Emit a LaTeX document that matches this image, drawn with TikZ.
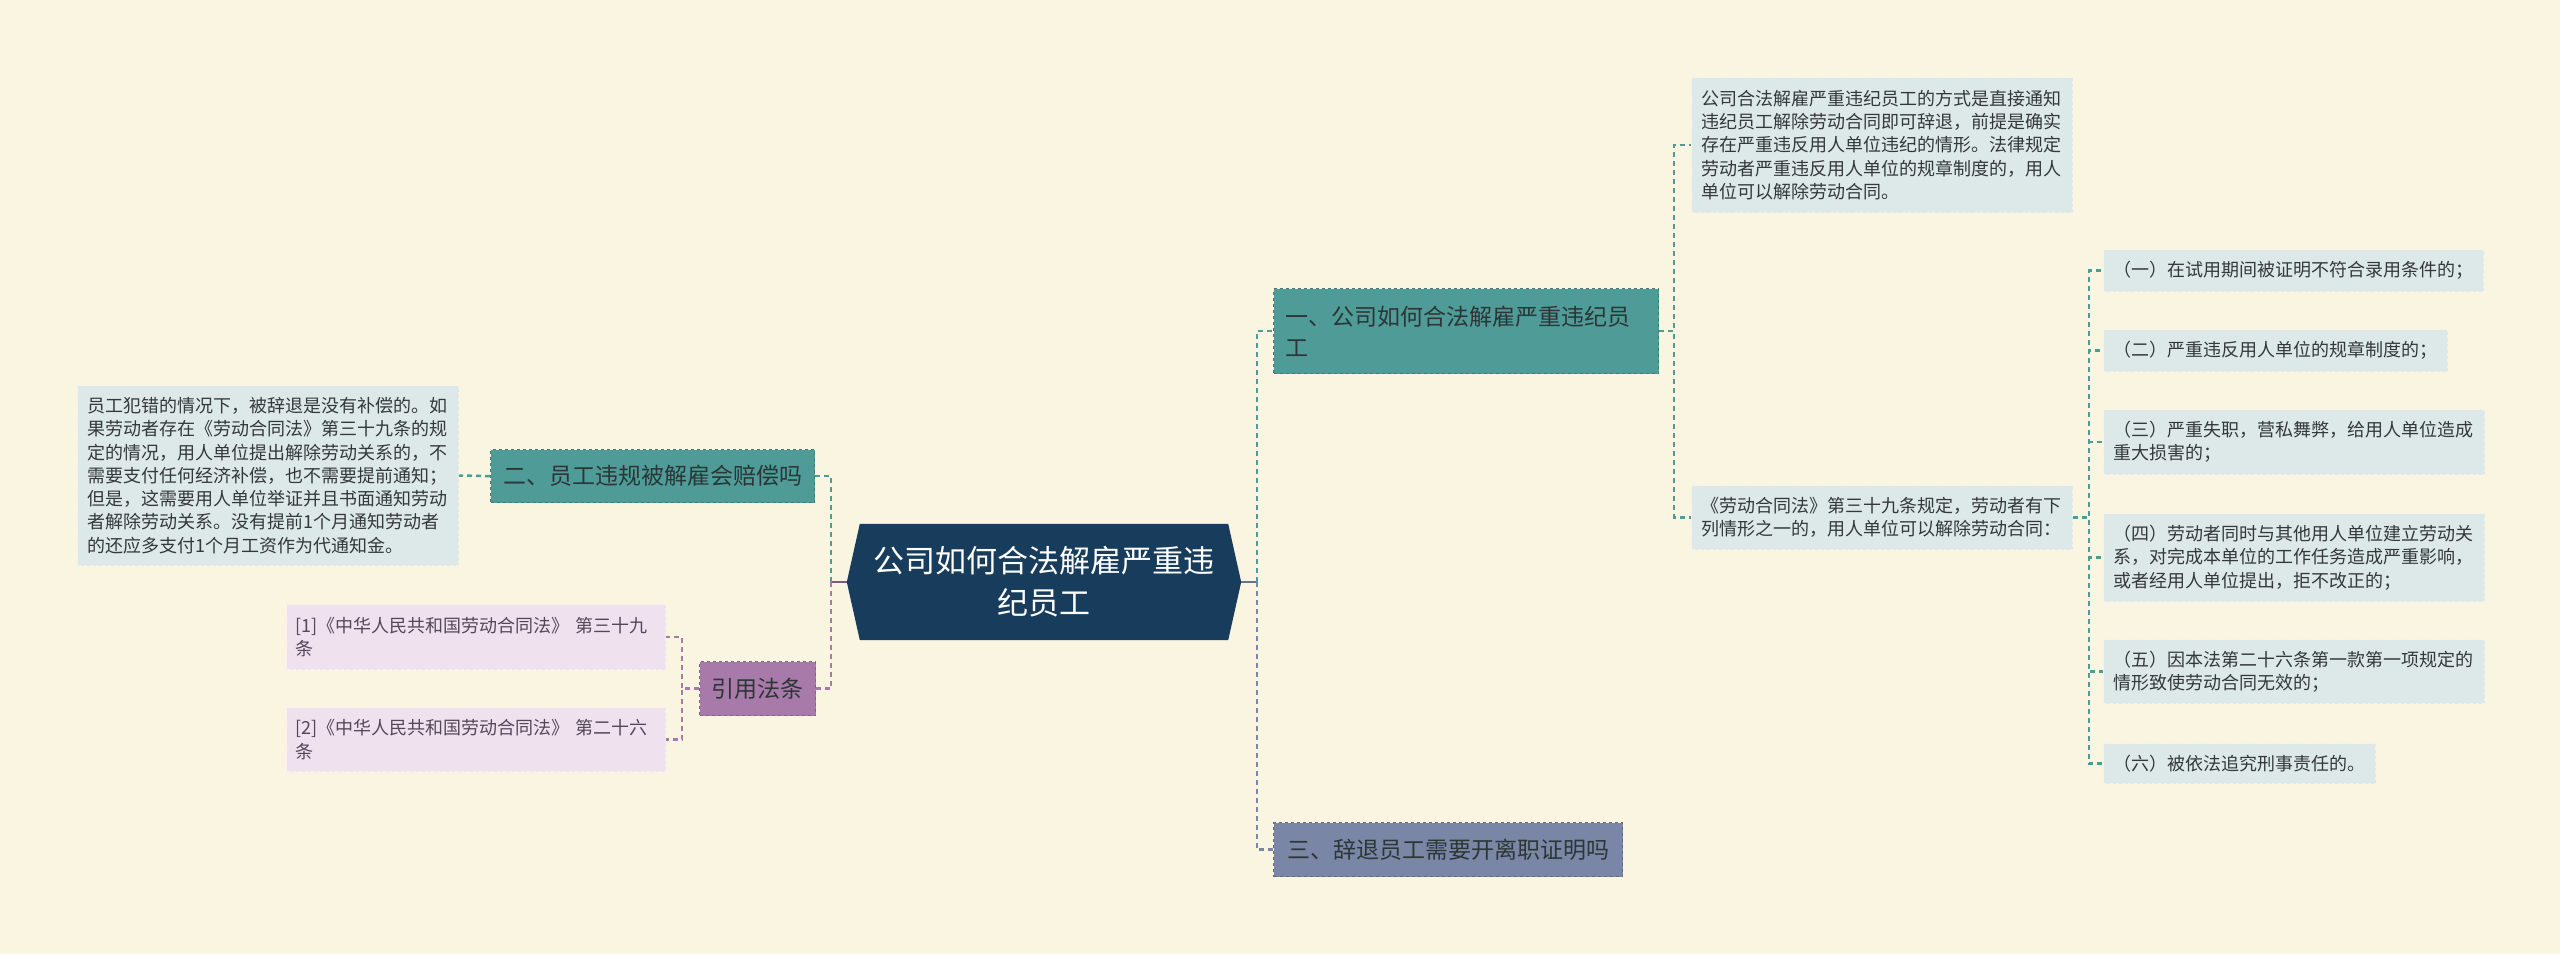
\documentclass[tikz,border=0pt]{standalone}
\usepackage{xcolor}
\usepackage{fontspec}
\setmainfont{Noto Sans CJK SC}
\usepackage{tikz}
\usetikzlibrary{positioning,backgrounds}

\definecolor{pagebg}{HTML}{FAF5E0}
\definecolor{rootblue}{HTML}{183D5C}
\definecolor{tealfill}{HTML}{4E9B98}
\definecolor{purplefill}{HTML}{A77AAA}
\definecolor{slatefill}{HTML}{7A86A6}
\definecolor{notefill}{HTML}{DDE9E8}
\definecolor{reffill}{HTML}{EFE2EE}
\definecolor{darktext}{HTML}{2C3636}
\definecolor{notetext}{HTML}{333838}
\definecolor{reftext}{HTML}{55475A}

\tikzset{
  rootnode/.style={minimum width=368pt, minimum height=116pt, inner sep=0pt,
    text=white, align=center, font=\fontsize{31}{42}\selectfont},
  branch/.style={fill=#1, draw=#1!80!black, dashed, line width=1.2pt,
    anchor=north west, inner xsep=12pt, inner ysep=0pt, text=darktext,
    align=left, font=\fontsize{23}{31}\selectfont},
  note/.style={fill=notefill, draw=white!45!notefill, dashed, line width=1pt,
    anchor=north west, inner xsep=10pt, inner ysep=0pt, text=notetext,
    align=left, font=\fontsize{18}{23.3}\selectfont},
  refnote/.style={note, fill=reffill, draw=white!45!reffill, text=reftext,
    inner xsep=9pt, text width=361pt},
  conn/.style={draw=#1, line width=2.5pt, dash pattern=on 5pt off 4pt},
  stub/.style={draw=#1, line width=2.5pt}
}

\begin{document}
\begin{tikzpicture}[x=1pt,y=-1pt]
  \useasboundingbox (0,0) rectangle (2560,954);

  % Central topic
  \node[rootnode] (root) at (1044,582) {公司如何合法解雇严重违\\纪员工};

  % Main branches
  \node[branch=tealfill, text width=361pt, minimum height=85pt] (b1) at (1273,288)
    {一、公司如何合法解雇严重违纪员\\工};
  \node[branch=tealfill, minimum width=324pt, minimum height=53pt] (b2) at (490,449)
    {二、员工违规被解雇会赔偿吗};
  \node[branch=slatefill, minimum width=349pt, minimum height=54pt] (b3) at (1273,822)
    {三、辞退员工需要开离职证明吗};
  \node[branch=purplefill, minimum width=115pt, minimum height=54pt, align=center] (cite) at (699,661)
    {引用法条};

  % Notes under branch one and two
  \node[note, text width=361pt, minimum height=180pt] (tl) at (77,385)
    {员工犯错的情况下，被辞退是没有补偿的。如\\
     果劳动者存在《劳动合同法》第三十九条的规\\
     定的情况，用人单位提出解除劳动关系的，不\\
     需要支付任何经济补偿，也不需要提前通知；\\
     但是，这需要用人单位举证并且书面通知劳动\\
     者解除劳动关系。没有提前1个月通知劳动者\\
     的还应多支付1个月工资作为代通知金。};
  \node[note, text width=361pt, minimum height=135pt] (ta) at (1691,77)
    {公司合法解雇严重违纪员工的方式是直接通知\\
     违纪员工解除劳动合同即可辞退，前提是确实\\
     存在严重违反用人单位违纪的情形。法律规定\\
     劳动者严重违反用人单位的规章制度的，用人\\
     单位可以解除劳动合同。};
  \node[note, text width=361pt, minimum height=64pt] (tb) at (1691,485)
    {《劳动合同法》第三十九条规定，劳动者有下\\
     列情形之一的，用人单位可以解除劳动合同：};

  % Article 39 items
  \node[note, minimum height=42pt] (i1) at (2103,249) {（一）在试用期间被证明不符合录用条件的；};
  \node[note, minimum height=42pt] (i2) at (2103,329) {（二）严重违反用人单位的规章制度的；};
  \node[note, text width=361pt, minimum height=65pt] (i3) at (2103,409)
    {（三）严重失职，营私舞弊，给用人单位造成\\重大损害的；};
  \node[note, text width=361pt, minimum height=88pt] (i4) at (2103,513)
    {（四）劳动者同时与其他用人单位建立劳动关\\
     系，对完成本单位的工作任务造成严重影响，\\
     或者经用人单位提出，拒不改正的；};
  \node[note, text width=361pt, minimum height=64pt] (i5) at (2103,639)
    {（五）因本法第二十六条第一款第一项规定的\\情形致使劳动合同无效的；};
  \node[note, minimum height=40pt] (i6) at (2103,743) {（六）被依法追究刑事责任的。};

  % Cited laws
  \node[refnote, minimum height=65pt] (r1) at (286,604)
    {[1]《中华人民共和国劳动合同法》~第三十九\\条};
  \node[refnote, minimum height=64pt] (r2) at (286,707)
    {[2]《中华人民共和国劳动合同法》~第二十六\\条};

  % Junctions beside the central topic
  \coordinate (jl) at (831,582);
  \coordinate (jr) at (1257,582);

  % Left side connectors
  \draw[stub=purplefill!75!black] ([xshift=-13pt]root.west) -- (jl);
  \draw[conn=tealfill] (jl) |- (b2.east);
  \draw[conn=purplefill] (jl) |- (cite.east);
  \draw[conn=tealfill] (b2.west) -- (tl.east);
  \draw[conn=purplefill] (cite.west) -- ++(-17,0) |- (r1.east);
  \draw[conn=purplefill] (cite.west) -- ++(-17,0) |- (r2.east);

  % Right side connectors
  \draw[stub=slatefill!85!black] ([xshift=13pt]root.east) -- (jr);
  \draw[conn=tealfill] (jr) |- (b1.west);
  \draw[conn=slatefill] (jr) |- (b3.west);
  \draw[conn=tealfill] (b1.east) -- ++(15,0) |- (ta.west);
  \draw[conn=tealfill] (b1.east) -- ++(15,0) |- (tb.west);
  \foreach \i in {1,...,6} {
    \draw[conn=tealfill] (tb.east) -- ++(16,0) |- (i\i.west);
  }

  % Page and central shape
  \begin{pgfonlayer}{background}
    \fill[pagebg] (0,0) rectangle (2560,954);
    \fill[rootblue] (root.north west) -- (root.north east) -- ([xshift=13pt]root.east)
      -- (root.south east) -- (root.south west) -- ([xshift=-13pt]root.west) -- cycle;
  \end{pgfonlayer}
\end{tikzpicture}
\end{document}
